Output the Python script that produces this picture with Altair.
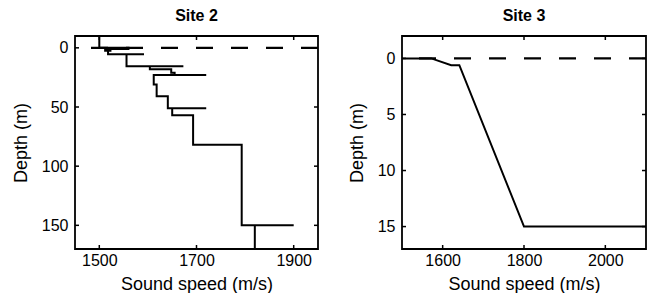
import altair as alt
import pandas as pd

# Site 2 profile (sound speed m/s, depth m), in drawing order
site2_speed = [1500, 1500, 1560, 1560, 1512, 1512, 1525, 1518, 1518, 1592, 1556, 1556, 1673, 1604,
               1604, 1648, 1648, 1655, 1655, 1720, 1612, 1612, 1618, 1618, 1641, 1641, 1720, 1650,
               1650, 1693, 1693, 1793, 1793, 1900, 1820, 1820]
site2_depth = [-10, 0, 0, 1, 1, 2.5, 2.5, 2.5, 5.5, 5.5, 5.5, 15.5, 15.5, 15.5,
               18, 18, 21, 21, 23, 23, 23, 31, 31, 41, 41, 51, 51, 51,
               57, 57, 82, 82, 150, 150, 150, 170]

# Site 3 profile
site3_speed = [1500, 1572, 1621, 1641, 1800, 2100]
site3_depth = [0, 0, 0.6, 0.6, 15, 15]

site2_xticks = [1500, 1700, 1900]
site2_yticks = [0, 50, 100, 150]
site3_xticks = [1600, 1800, 2000]
site3_yticks = [0, 5, 10, 15]

site2_xdom = [1450, 1950]
site2_ydom = [-10, 170]
site3_xdom = [1500, 2100]
site3_ydom = [-2, 17]

FONT = "Liberation Sans"


def panel(title, speed, depth, xticks, yticks, xdom, ydom, width, height):
    df = pd.DataFrame({"speed": speed, "depth": depth, "i": list(range(len(speed)))})
    one = pd.DataFrame({"k": [0]})
    xt = pd.DataFrame({"v": xticks})
    yt = pd.DataFrame({"v": yticks})
    xs = alt.Scale(domain=xdom, nice=False, zero=False)
    ys = alt.Scale(domain=ydom, nice=False, zero=False, reverse=True)
    xax = alt.Axis(values=xticks, format="d", ticks=False, domain=False, grid=False,
                   labelFontSize=16, labelFont=FONT, titleFont=FONT, titleFontSize=18,
                   titleFontWeight="normal", labelColor="black", titleColor="black",
                   labelPadding=3, titlePadding=7, labelFlush=False)
    yax = alt.Axis(values=yticks, format="d", ticks=False, domain=False, grid=False,
                   labelFontSize=16, labelFont=FONT, titleFont=FONT, titleFontSize=18,
                   titleFontWeight="normal", labelColor="black", titleColor="black",
                   labelPadding=7, titlePadding=11, labelFlush=False)
    line = alt.Chart(df).mark_line(color="black", strokeWidth=2.0, clip=True).encode(
        x=alt.X("speed:Q", scale=xs, axis=xax, title="Sound speed (m/s)"),
        y=alt.Y("depth:Q", scale=ys, axis=yax, title="Depth (m)"),
        order=alt.Order("i:Q"),
    )
    dash = alt.Chart(one).mark_rule(color="black", strokeWidth=2.2, strokeDash=[17, 18]).encode(
        y=alt.datum(0)
    )
    frame = alt.Chart(one).mark_rect(fill=None, stroke="black", strokeWidth=1.8).encode(
        x=alt.datum(xdom[0]), x2=alt.datum(xdom[1]),
        y=alt.datum(ydom[0]), y2=alt.datum(ydom[1]),
    )
    rs = dict(color="black", strokeWidth=1.5)
    tb = alt.Chart(xt).mark_rule(y2Offset=-4, **rs).encode(
        x="v:Q", y=alt.datum(ydom[1]), y2=alt.datum(ydom[1]))
    tt = alt.Chart(xt).mark_rule(y2Offset=4, **rs).encode(
        x="v:Q", y=alt.datum(ydom[0]), y2=alt.datum(ydom[0]))
    tl = alt.Chart(yt).mark_rule(x2Offset=4, **rs).encode(
        y="v:Q", x=alt.datum(xdom[0]), x2=alt.datum(xdom[0]))
    tr = alt.Chart(yt).mark_rule(x2Offset=-4, **rs).encode(
        y="v:Q", x=alt.datum(xdom[1]), x2=alt.datum(xdom[1]))
    return alt.layer(line, dash, frame, tb, tt, tl, tr).properties(
        width=width, height=height,
        title=alt.TitleParams(title, fontSize=16, fontWeight="bold", font=FONT, color="black",
                              offset=11, anchor="middle"),
    )


left = panel("Site 2", site2_speed, site2_depth, site2_xticks, site2_yticks,
             site2_xdom, site2_ydom, 243, 213)
right = panel("Site 3", site3_speed, site3_depth, site3_xticks, site3_yticks,
              site3_xdom, site3_ydom, 244, 213)

chart = alt.hconcat(left, right, spacing=84, bounds="flush").properties(
    padding={"left": 4, "top": 0, "right": 0, "bottom": 0},
    background="white",
).configure_view(stroke=None)

chart.save("out.html", embed_options={"renderer": "svg", "actions": False})
